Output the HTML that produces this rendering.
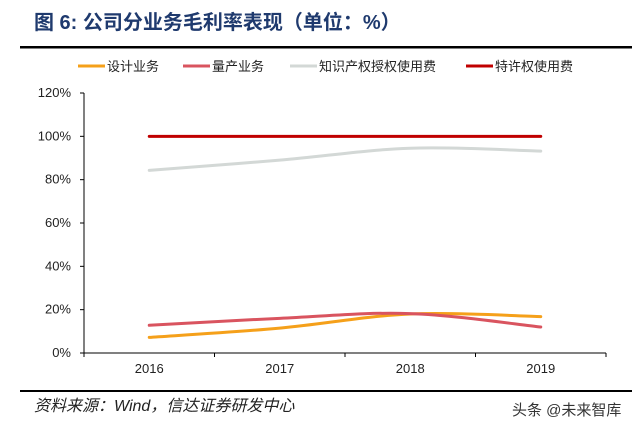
<!DOCTYPE html>
<html><head><meta charset="utf-8"><style>
body{margin:0;background:#fff;width:640px;height:431px;overflow:hidden;font-family:"Liberation Sans","Noto Sans CJK SC",sans-serif}
</style></head><body>
<svg width="640" height="431" xmlns="http://www.w3.org/2000/svg">
<text x="34" y="29" font-size="20" font-weight="bold" fill="#1f3a6e" font-family="Liberation Sans, Noto Sans CJK SC, sans-serif">图 6:  公司分业务毛利率表现（单位：%）</text>
<rect x="20" y="46" width="612" height="2.5" fill="#000"/>
<g id="legend" font-size="13" fill="#222" font-family="Liberation Sans, Noto Sans CJK SC, sans-serif"></g>
<g id="axes" font-size="13" fill="#222" font-family="Liberation Sans, sans-serif"></g>
<g id="series"></g>
<rect x="20" y="390" width="612" height="2" fill="#000"/>
<text x="34" y="411" font-size="16" font-style="italic" fill="#222" font-family="Liberation Sans, Noto Sans CJK SC, sans-serif">资料来源：Wind，信达证券研发中心</text>
<text x="512" y="415" font-size="15" fill="#333" font-family="Liberation Sans, Noto Sans CJK SC, sans-serif">头条 @未来智库</text>
</svg>
<script>
const categories=["2016","2017","2018","2019"];
const seriesNames=["设计业务","量产业务","知识产权授权使用费","特许权使用费"];
const seriesColors=["#f5a01a","#d9545f","#d3d8d6","#c00000"];
const designVals=[7.2,11.5,18,16.8];
const massVals=[12.8,16,18.2,12];
const ipVals=[84.3,89,94.5,93.2];
const royaltyVals=[100,100,100,100];
const yTicks=[0,20,40,60,80,100,120];
const allVals=[designVals,massVals,ipVals,royaltyVals];
const NS="http://www.w3.org/2000/svg";
const x0=84,x1=606,yB=353,yT=93;
const band=(x1-x0)/categories.length;
const xS=i=>x0+band*(i+0.5);
const yS=v=>yB-(v/120)*(yB-yT);
function mk(t,a,p){const e=document.createElementNS(NS,t);for(const k in a)e.setAttribute(k,a[k]);p.appendChild(e);return e;}
const ax=document.getElementById('axes');
yTicks.forEach(t=>{const e=mk('text',{x:71,y:yS(t)+4,'text-anchor':'end'},ax);e.textContent=t+'%';

});
const yl=mk('line',{x1:x0,y1:yT,x2:x0,y2:yB,stroke:'#000','stroke-width':1},ax);


yTicks.forEach(t=>{mk('line',{x1:x0-4,y1:yS(t),x2:x0,y2:yS(t),stroke:'#000'},ax);});
const xl=mk('line',{x1:x0,y1:yB,x2:x1,y2:yB,stroke:'#000','stroke-width':1},ax);


for(let i=0;i<=categories.length;i++)mk('line',{x1:x0+band*i,y1:yB,x2:x0+band*i,y2:yB+4,stroke:'#000'},ax);
categories.forEach((c,i)=>{const e=mk('text',{x:xS(i),y:yB+20,'text-anchor':'middle'},ax);e.textContent=c;

});
function smooth(pts){let d=`M${pts[0][0]},${pts[0][1]}`;const t=0.35;
for(let i=0;i<pts.length-1;i++){const p0=pts[i-1]||pts[i],p1=pts[i],p2=pts[i+1],p3=pts[i+2]||p2;
const c1=[p1[0]+(p2[0]-p0[0])*t/2,p1[1]+(p2[1]-p0[1])*t/2];const c2=[p2[0]-(p3[0]-p1[0])*t/2,p2[1]-(p3[1]-p1[1])*t/2];
d+=` C${c1[0]},${c1[1]} ${c2[0]},${c2[1]} ${p2[0]},${p2[1]}`;}return d;}
const sg=document.getElementById('series');
[2,0,1,3].forEach(s=>{const pts=allVals[s].map((v,i)=>[xS(i),yS(v)]);
const p=mk('path',{d:smooth(pts),fill:'none',stroke:seriesColors[s],'stroke-width':3,'stroke-linecap':'round'},sg);

});
const lg=document.getElementById('legend');
const lx=[78,183,290,466];
seriesNames.forEach((n,i)=>{const g=mk('g',{},lg);


mk('line',{x1:lx[i],y1:66,x2:lx[i]+27,y2:66,stroke:seriesColors[i],'stroke-width':3},g);
const t=mk('text',{x:lx[i]+29,y:71},g);t.textContent=n;});
</script>
</body></html>
